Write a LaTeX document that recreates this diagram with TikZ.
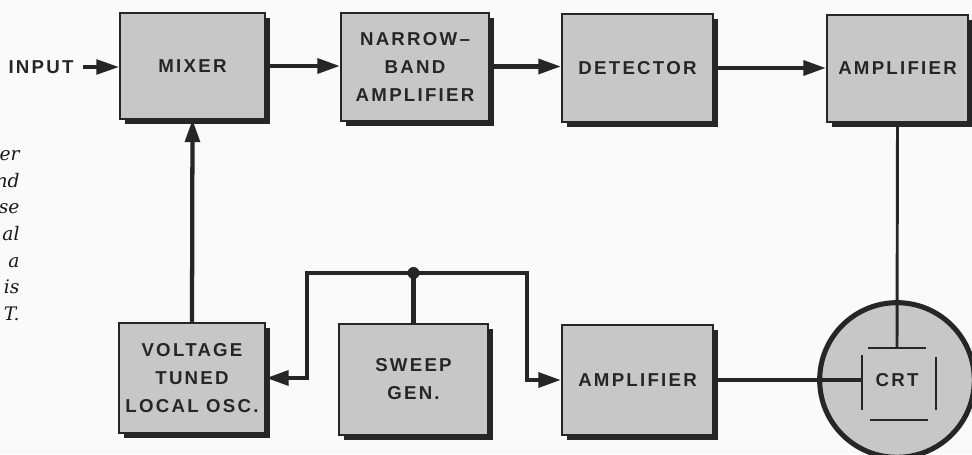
\documentclass[tikz,border=0pt]{standalone}
\usepackage{fontspec}
\newfontfamily\blockfont[LetterSpace=12]{Liberation Sans}
\newfontfamily\notefont{DejaVu Serif}
\usetikzlibrary{arrows.meta,shadows}

\tikzset{every picture/.style={line width=0.75pt}}
\tikzset{
  block/.style={draw=black!85, line width=1.5pt, fill=black!22, inner sep=0pt, align=center,
    text=black!85, font=\blockfont\bfseries\fontsize{14}{21}\selectfont,
    drop shadow={shadow xshift=3.75pt, shadow yshift=-3.75pt, fill=black!85, opacity=1}},
  feed/.style={draw=black!85, line width=3.2pt},
  feedarrow/.style={feed, -{Triangle[length=17pt,width=11pt]}},
}

\begin{document}
\begin{tikzpicture}[x=0.75pt,y=0.75pt,yscale=-1,xscale=1]
%Background
\path [fill=black!2] (0,0) rectangle (972,454);
\useasboundingbox (0,0) rectangle (972,454);

%Shape: Rectangle
\draw (192.5,66) node [block, minimum width=108.8pt, minimum height=78.8pt] (mixer) {MIXER};
%Shape: Rectangle
\draw (415,66.5) node [block, minimum width=111pt, minimum height=81pt] (narrow) {NARROW–\\BAND\\AMPLIFIER};
%Shape: Rectangle
\draw (637.5,68) node [block, minimum width=113.3pt, minimum height=81pt] (detector) {DETECTOR};
%Shape: Rectangle
\draw (897.5,68.5) node [block, minimum width=105.8pt, minimum height=80.3pt] (amptop) {AMPLIFIER};
%Shape: Rectangle
\draw (192,378) node [block, minimum width=109.5pt, minimum height=82.5pt] (osc) {VOLTAGE\\TUNED\\LOCAL OSC.};
%Shape: Rectangle
\draw (413.5,379.5) node [block, minimum width=111.8pt, minimum height=83.3pt] (sweep) {SWEEP\\GEN.};
%Shape: Rectangle
\draw (637.5,380) node [block, minimum width=113.3pt, minimum height=81.8pt] (ampbot) {AMPLIFIER};

%Shape: Circle
\draw (897,380) node [circle, draw=black!85, line width=3.8pt, fill=black!22, minimum size=116pt, inner sep=0pt,
  text=black!85, font=\blockfont\bfseries\fontsize{14}{21}\selectfont] (crt) {CRT};
%Plates
\coordinate (pltop) at (897,348);
\coordinate (plleft) at (862,380);
\draw [draw=black!85, line width=1.6pt] (868,348) -- (926,348);
\draw [draw=black!85, line width=1.6pt] (870,420) -- (928,420);
\draw [draw=black!85, line width=1.6pt] (862,355) -- (862,410);
\draw [draw=black!85, line width=1.6pt] (936,357) -- (936,410);

% Text Node
\draw (74,67) node [anchor=east, inner sep=0pt, text=black!85, font=\blockfont\bfseries\fontsize{14}{21}\selectfont] (input) {INPUT};
% Text Node
\draw (20,150) node [anchor=north east, inner sep=0pt, align=right, text=black!90,
  font=\notefont\itshape\fontsize{14}{20}\selectfont] (note) {er\\nd\\se\\al\\a\\is\\T.};

%Straight Lines
\draw [feedarrow, line width=2.6pt] ([xshift=7pt]input.east) -- (input.east -| mixer.west);
\draw [feedarrow] (mixer.east) -- (mixer.east -| narrow.west);
\draw [feedarrow] (narrow.east) -- (narrow.east -| detector.west);
\draw [feedarrow] (detector.east) -- (detector.east -| amptop.west);
\draw [feedarrow] (osc.north) -- (mixer.south);
\draw [draw=black!85, line width=2.2pt] (amptop.south) -- (pltop);
\draw [feed] (ampbot.east) -- (plleft);

%Sweep feed
\coordinate (jn) at (sweep.north |- 0,273);
\coordinate (lbend) at (307,273);
\coordinate (rbend) at (527,273);
\draw [feed] (sweep.north) -- (jn);
\draw [feedarrow] (jn) -- (lbend) |- (osc.east);
\draw [feedarrow] (jn) -- (rbend) |- (ampbot.west);
\fill [black!85] (jn) circle (6);

\end{tikzpicture}
\end{document}
